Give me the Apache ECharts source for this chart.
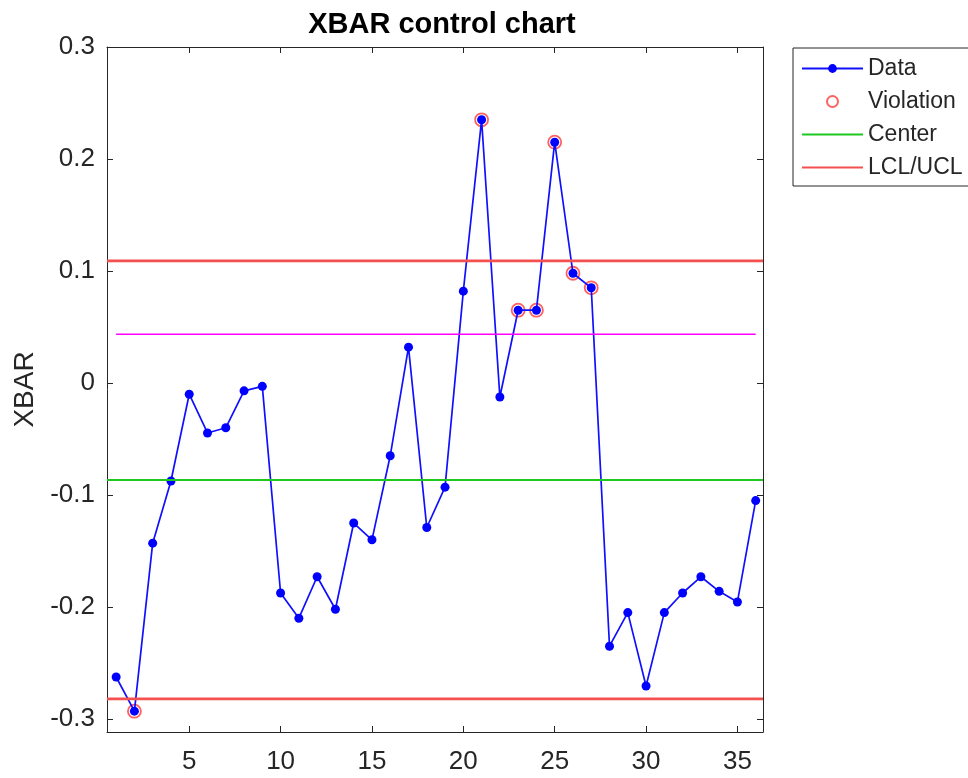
<!DOCTYPE html>
<html>
<head>
<meta charset="utf-8">
<script src="https://cdn.jsdelivr.net/npm/echarts@6/dist/echarts.min.js"></script>
<style>html,body{margin:0;padding:0;background:#fff}#c{width:968px;height:778px}</style>
</head>
<body>
<div id="c"></div>
<script>
// ---- data ----
var samples = [1,2,3,4,5,6,7,8,9,10,11,12,13,14,15,16,17,18,19,20,21,22,23,24,25,26,27,28,29,30,31,32,33,34,35,36];
var xbar = [-0.2625,-0.293,-0.143,-0.0875,-0.010,-0.0446,-0.040,-0.007,-0.003,-0.1875,-0.210,-0.173,-0.202,-0.125,-0.140,-0.065,0.032,-0.129,-0.093,0.082,0.235,-0.0125,0.065,0.065,0.215,0.098,0.085,-0.235,-0.205,-0.2705,-0.205,-0.1875,-0.173,-0.186,-0.1955,-0.105];
var violations = [2,21,23,24,25,26,27];
var centerValue = -0.0865;
var ucl = 0.109;
var lcl = -0.282;
var magentaValue = 0.0435;
var xTicks = [5,10,15,20,25,30,35];
var yTicks = [-0.3,-0.2,-0.1,0,0.1,0.2,0.3];
var yTickLabels = ['-0.3','-0.2','-0.1','0','0.1','0.2','0.3'];
var xRange = [0.5, 36.4];
var yRange = [-0.3116, 0.3];

// ---- build ----
var dataPts = samples.map(function(s,i){return [s, xbar[i]];});
var violPts = violations.map(function(s){return [s, xbar[s-1]];});
var FONT = '"Liberation Sans", Arial, Helvetica, sans-serif';
var AX = '#262626';
var LINE_ICON = 'path://M0,0H61V2H0Z';

var chart = echarts.init(document.getElementById('c'), null, {renderer:'canvas'});
var xBase = {type:'value', min:xRange[0], max:xRange[1], splitLine:{show:false},
  axisLine:{show:true,onZero:false,lineStyle:{color:AX,width:1}},
  axisTick:{show:true,inside:true,length:6,customValues:xTicks,lineStyle:{color:AX}}};
var yBase = {type:'value', min:yRange[0], max:yRange[1], splitLine:{show:false},
  axisLine:{show:true,onZero:false,lineStyle:{color:AX,width:1}},
  axisTick:{show:true,inside:true,length:6,customValues:yTicks,lineStyle:{color:AX}}};

chart.setOption({
  animation:false,
  backgroundColor:'#fff',
  title:{text:'XBAR control chart', left:437, top:5, textAlign:'center',
    textStyle:{fontFamily:FONT,fontSize:29,fontWeight:'bold',color:'#000'}},
  grid:{left:107,right:205,top:47,bottom:46,containLabel:false},
  legend:{orient:'vertical', left:793, top:48, padding:[9,40,7,8], itemGap:10,
    itemWidth:61, itemHeight:11, borderColor:AX, borderWidth:1, backgroundColor:'#fff',
    textStyle:{fontFamily:FONT,fontSize:23,color:AX},
    data:[{name:'Data'},{name:'Violation'},{name:'Center',icon:LINE_ICON},{name:'LCL/UCL',icon:LINE_ICON}]},
  xAxis:[
    Object.assign({}, xBase, {position:'bottom',
      axisLabel:{show:true,customValues:xTicks,margin:17,fontFamily:FONT,fontSize:26,color:AX}}),
    Object.assign({}, xBase, {position:'top', axisLabel:{show:false}})
  ],
  yAxis:[
    Object.assign({}, yBase, {position:'left', name:'XBAR', nameLocation:'middle', nameRotate:90, nameGap:67,
      nameTextStyle:{fontFamily:FONT,fontSize:28,color:AX},
      axisLabel:{show:true,customValues:yTicks,margin:12,fontFamily:FONT,fontSize:26,color:AX,
        formatter:function(v){var i=yTicks.findIndex(function(t){return Math.abs(t-v)<1e-9;});return i>=0?yTickLabels[i]:'';}}}),
    Object.assign({}, yBase, {position:'right', axisLabel:{show:false}})
  ],
  series:[
    {name:'Data', type:'line', data:dataPts, symbol:'circle', symbolSize:9, showSymbol:true,
      lineStyle:{color:'#1010ff',width:1.7}, itemStyle:{color:'#0000ff'}, z:3},
    {name:'Violation', type:'scatter', data:violPts, symbol:'circle', symbolSize:13,
      itemStyle:{color:'rgba(0,0,0,0)',borderColor:'#ff3a3a',borderWidth:1.8}, z:2},
    {name:'Center', type:'line', data:[[xRange[0],centerValue],[xRange[1],centerValue]], symbol:'none',
      lineStyle:{color:'#1ec81e',width:2}, itemStyle:{color:'#1ec81e'}, z:4},
    {name:'LCL/UCL', type:'line', data:[[xRange[0],ucl],[xRange[1],ucl]], symbol:'none',
      lineStyle:{color:'#f45050',width:2.6}, itemStyle:{color:'#f45050'}, z:4},
    {name:'LCL/UCL', type:'line', data:[[xRange[0],lcl],[xRange[1],lcl]], symbol:'none',
      lineStyle:{color:'#f45050',width:2.6}, itemStyle:{color:'#f45050'}, z:4},
    {name:'mean', type:'line', data:[[samples[0],magentaValue],[samples[samples.length-1],magentaValue]], symbol:'none',
      lineStyle:{color:'#ff00ff',width:1.5}, z:4}
  ]
});
</script>
</body>
</html>
